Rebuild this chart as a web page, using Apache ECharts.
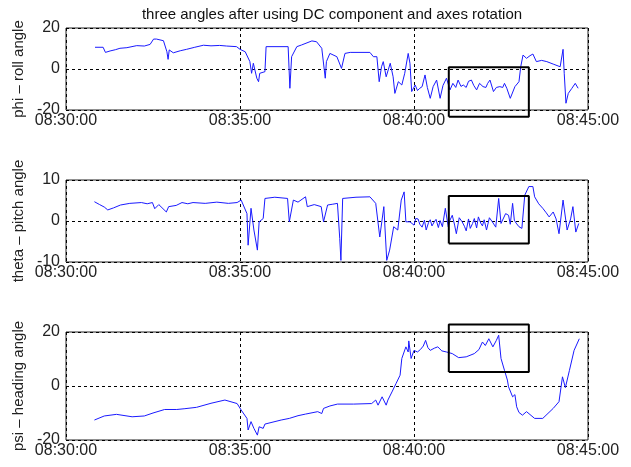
<!DOCTYPE html>
<html>
<head>
<meta charset="utf-8">
<script src="https://cdn.jsdelivr.net/npm/echarts@6/dist/echarts.min.js"></script>
<style>
  html, body { margin: 0; padding: 0; background: #fff; }
  #chart { width: 631px; height: 467px; }
</style>
</head>
<body>
<div id="chart"></div>
<script>
// time is in seconds after 08:30:00
const xTicks = [0, 300, 600, 900]

const phiTime = [50, 64, 68, 76, 85, 93, 105, 122, 135, 145, 151, 156, 168, 174, 176, 178, 185, 197, 208, 222, 237, 250, 265, 277, 294, 300,
  309, 317, 320, 323, 329, 332, 334, 343, 345, 383, 386, 389, 398, 406, 424, 432, 441, 447, 449, 455,
  467, 475, 481, 490, 524, 530, 536, 540, 544, 547, 552, 559, 564, 567, 573, 579, 584, 590, 593, 596,
  602, 606, 610, 614, 619, 623, 628, 633, 639, 645, 650, 656, 662, 667, 672, 676, 681, 685, 690, 694, 699, 703,
  708, 713, 719, 724, 727, 731, 737, 742, 748, 753, 756, 760, 766, 774, 781, 784, 788, 794, 800, 805, 811,
  820, 829, 840, 852, 857, 859, 862, 866, 872, 878, 883]
const phiValue = [10.6, 10.6, 8.1, 8.8, 9.4, 10.1, 10.4, 11.4, 11.2, 12.0, 14.6, 14.6, 13.8, 8.4, 4.7, 9.3, 7.9, 8.9, 9.6, 10.6, 11.6, 11.3, 11.5, 11.2, 10.9, 9.6,
  8.4, 3.6, -2.1, 2.8, -4.5, -6.2, -2.1, -1.3, 10.9, 10.9, -9.4, 6.0, 10.9, 11.7, 13.7, 13.3, 10.1, -4.5, 3.6, 7.6,
  6.0, 0.3, 7.6, 8.1, 8.1, 6.0, 6.0, -6.2, 1.1, 3.6, -3.8, 2.8, -3.8, -11.9, -6.2, -7.8, -2.1, 7.6, 2.8, -11,
  -7.8, -10.5, -9.4, -8.6, -2.9, -9, -14.3, -8.6, -5.4, -14.3, -8, -4.5, -10.2, -7, -9, -5.4, -8.5, -7.8, -9, -6, -5.4, -8,
  -10.2, -7, -8.6, -9, -7, -5.4, -11, -9, -8.6, -9, -7, -9.4, -14.3, -8.6, -6.2, 1.1, 6.8, 5.2, 6.5, 7.3, 3.6,
  4.2, 3.6, 2.4, 1.1, 9.6, -2.1, -16.7, -11.9, -9.5, -7.0, -9.4]

const thetaTime = [49, 58, 66, 72, 82, 94, 110, 130, 140, 149, 153, 160, 173, 177, 190, 200, 210, 219, 240, 260, 280, 295, 302, 312, 314, 319, 324, 330, 333, 340, 343,
  360, 382, 385, 392, 400, 413, 416, 428, 440, 444, 451, 460, 468, 472, 474, 477, 500, 524, 534, 541, 548, 553, 558, 565, 572, 578,
  583, 586, 593, 600, 603, 607, 610, 614, 618, 621, 625, 628, 631, 635, 638, 642, 645, 649, 654, 659, 662, 666, 670, 673, 678, 683, 687, 690, 694, 697, 701, 704, 708, 711,
  715, 718, 721, 725, 730, 735, 741, 746, 750, 753, 758, 763, 766, 770, 773, 776, 781, 786, 791, 798, 805, 808, 815, 822, 828, 833, 840,
  845, 850, 857, 864, 870, 874, 879, 884]
const thetaValue = [4.7, 4.0, 3.4, 2.7, 3.2, 3.9, 4.3, 4.5, 4.2, 4.5, 3.0, 4.0, 2.2, 3.5, 3.8, 4.5, 4.2, 4.5, 4.3, 4.6, 4.3, 4.5, 5.1, 1.8, -5.9, 3.1, -2.2, -7.1, -0.2, 0.6, 5.5,
  5.8, 5.5, -0.2, 5.1, 4.6, 5.9, 3.5, 4.0, 3.5, -0.2, 3.9, 4.1, 4.3, -4.3, -9.6, 5.5, 5.8, 5.9, 4.3, -3.9, 3.5, -9.6, -7.1, -1.4, -2.2, 5.1,
  7.1, -0.2, -0.2, -1.0, 0.6, 0.5, -0.8, -1.5, 0.2, -2.2, -0.4, 0.3, -1.2, -0.2, 0.4, -1.6, 0.1, -1.4, 3.1, -1.4, 0.2, 1.4, -1.0, -3.1, 0.8, -0.2, -1.3, -2.4, 0.5, -1.8, -0.6, 0.6, -1.7, 1.0,
  -0.5, -1.2, 0.3, -2.2, 0.8, -0.2, -1.5, 5.5, -0.6, -0.2, 1.8, 1.4, -0.8, 4.3, 0.2, -0.5, -1.4, -1.8, 6.3, 8.4, 8.4, 5.9, 4.2, 3.1, 2.0, 1.0, 2.2,
  0.5, -3.1, 5.1, -2.2, 0.5, 3.5, -2.7, -0.6]

const psiTime = [49, 66, 87, 114, 135, 150, 170, 191, 205, 225, 250, 274, 295, 302, 312, 314, 319, 324, 330, 333, 340, 343,
  371, 385, 400, 413, 434, 441, 444, 455, 468, 496, 527, 534, 538, 545, 552, 555, 562, 569, 576, 579, 586, 590,
  591, 595, 600, 606, 611, 616, 620, 624, 628, 635, 641, 648, 656, 666, 677, 690, 704, 712, 718, 723, 729, 736, 742, 746, 750, 756, 761, 763,
  770, 774, 777, 781, 787, 794, 808, 822, 840, 850, 856, 861, 868, 876, 885]
const psiValue = [-12.6, -11.1, -10.5, -11.4, -11.1, -10.0, -8.7, -8.7, -8.4, -7.9, -6.4, -5.2, -6.5, -8.9, -12, -16.3, -13.2, -15.7, -18.2, -15.1, -15.7, -14.1,
  -12.6, -12, -11.0, -10.4, -9.5, -10.2, -8.3, -7.4, -6.7, -6.7, -6.5, -5.2, -7.1, -4.0, -7.1, -5.2, -2.2, 0.9, 4.0, 10.2, 14.5, 12.6,
  16.7, 10.2, 13.2, 12.6, 13.5, 14.8, 16.9, 14.2, 13.2, 14.0, 14.5, 13.0, 12.6, 12.0, 10.5, 10.8, 12.0, 13.5, 16.3, 15.0, 17.5, 14.5, 16.9, 18.8, 10.2, 5.8, 2.2, -0.3,
  -4.0, -3.2, -7.7, -9.8, -10.8, -9.5, -12, -12, -8.3, -5.8, 3.4, -0.6, 5.8, 13.2, 17.5]

// highlighted windows
const boxTime = [660, 798]
const phiBox = [-23.3, 0.8]
const thetaBox = [-5.5, 6.1]
const psiBox = [5.2, 22.8]

const font = 'Liberation Sans, Arial, sans-serif'

function clock(s) {
  const m = 30 + Math.floor(s / 60)
  const sec = s % 60
  return '08:' + String(m).padStart(2, '0') + ':' + String(sec).padStart(2, '0')
}

function pairs(t, v) {
  return t.map((x, i) => [x, v[i]])
}

function boxPath(y) {
  return [[boxTime[0], y[0]], [boxTime[1], y[0]], [boxTime[1], y[1]], [boxTime[0], y[1]], [boxTime[0], y[0]]]
}

const grids = [
  { left: 66, right: 43, top: 28, height: 82 },
  { left: 66, right: 43, top: 180, height: 82 },
  { left: 66, right: 43, top: 332, height: 108 },
].map((g) => ({ ...g, show: true, borderColor: '#222', borderWidth: 1, backgroundColor: '#fff' }))

const gridLine = { show: true, lineStyle: { color: '#000', type: [3, 3], width: 1 } }

const xAxes = [0, 1, 2].map((i) => ({
  type: 'value',
  gridIndex: i,
  min: xTicks[0],
  max: xTicks[xTicks.length - 1],
  interval: 300,
  axisLine: { show: false },
  axisTick: { show: false },
  splitLine: gridLine,
  axisLabel: { color: '#222', fontSize: 16, fontFamily: font, margin: 3, formatter: clock },
}))

const yNames = ['phi \u2013 roll angle', 'theta \u2013 pitch angle', 'psi \u2013 heading angle']
const yRanges = [[-20, 20, 20], [-10, 10, 10], [-20, 20, 20]]

const yAxes = yRanges.map((r, i) => ({
  type: 'value',
  gridIndex: i,
  min: r[0],
  max: r[1],
  interval: r[2],
  name: yNames[i],
  nameLocation: 'middle',
  nameGap: 33,
  nameTextStyle: { color: '#222', fontSize: 15, fontFamily: font },
  axisLine: { show: false },
  axisTick: { show: false },
  splitLine: gridLine,
  axisLabel: { color: '#222', fontSize: 16, fontFamily: font, margin: 6 },
}))

const traces = [pairs(phiTime, phiValue), pairs(thetaTime, thetaValue), pairs(psiTime, psiValue)]
const boxes = [phiBox, thetaBox, psiBox]

const series = []
traces.forEach((d, i) => {
  series.push({
    type: 'line',
    xAxisIndex: i,
    yAxisIndex: i,
    data: d,
    symbol: 'none',
    lineStyle: { color: '#1a1aff', width: 1 },
    animation: false,
  })
  series.push({
    type: 'line',
    xAxisIndex: i,
    yAxisIndex: i,
    data: boxPath(boxes[i]),
    symbol: 'none',
    clip: false,
    silent: true,
    z: 5,
    lineStyle: { color: '#000', width: 2 },
    animation: false,
  })
})

const chart = echarts.init(document.getElementById('chart'))
chart.setOption({
  backgroundColor: '#fff',
  animation: false,
  title: {
    text: 'three angles after using DC component and axes rotation',
    left: 327,
    textAlign: 'center',
    top: 2,
    textStyle: { color: '#111', fontSize: 15, fontWeight: 'normal', fontFamily: font },
  },
  grid: grids,
  xAxis: xAxes,
  yAxis: yAxes,
  series,
})

window.addEventListener('resize', () => chart.resize())
</script>
</body>
</html>
